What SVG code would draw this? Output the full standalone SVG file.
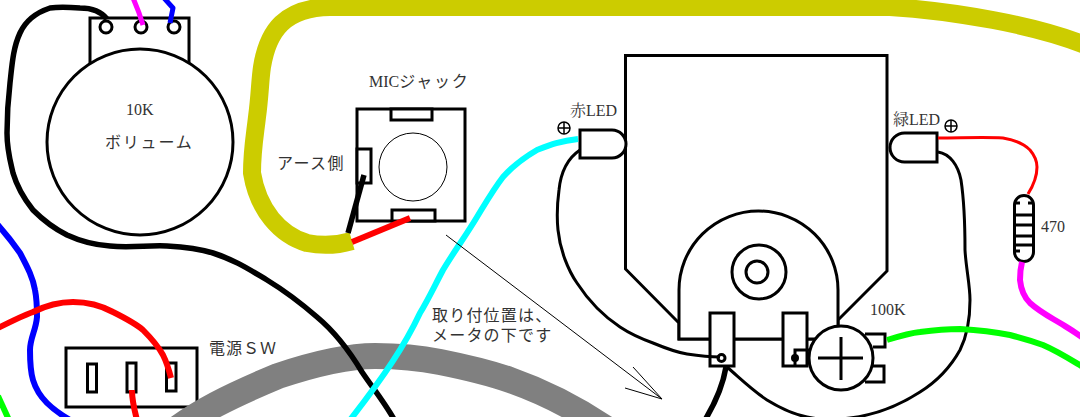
<svg xmlns="http://www.w3.org/2000/svg" width="1080" height="417" viewBox="0 0 1080 417">
<style>
.s{fill:none;stroke:#000;stroke-width:3}
.w{fill:#fff;stroke:#000;stroke-width:3}
.wire{fill:none;stroke-linejoin:round}
.ja{font-family:"Noto Sans CJK JP","DejaVu Sans",sans-serif;font-size:16px;fill:#333}
.se{font-family:"Liberation Serif","Noto Serif CJK JP","Noto Sans CJK JP",serif;font-size:16px;fill:#333}
</style>
<rect width="1080" height="417" fill="#fff"/>
<g id="volume">
<rect class="w" x="90" y="18" width="99" height="60"/>
<circle class="w" cx="106" cy="27" r="6"/><circle class="w" cx="141" cy="27" r="6"/><circle class="w" cx="174" cy="27" r="6"/>
<circle class="w" cx="140" cy="142" r="93"/>
<text class="se" x="126" y="115">10K</text>
<text class="ja" x="105" y="148" letter-spacing="1.800">ボリューム</text>
</g>
<g id="mic-jack">
<rect class="w" x="357" y="109" width="108" height="112"/>
<rect class="w" x="391" y="109" width="41" height="11"/>
<rect class="w" x="392" y="210" width="43" height="11"/>
<rect class="w" x="357" y="149" width="14" height="34"/>
<circle cx="413" cy="167" r="34" fill="none" stroke="#000"/>
<text class="se" x="369" y="87"><tspan>MIC</tspan><tspan class="ja" letter-spacing="1.800">ジャック</tspan></text>
<text class="ja" x="277" y="169" letter-spacing="1.400">アース側</text>
</g>
<g id="power-switch">
<rect class="w" x="66" y="348" width="131" height="59"/>
<rect class="w" x="87.500" y="364" width="9" height="28"/>
<rect class="w" x="127" y="363" width="9" height="29"/>
<rect class="w" x="166.500" y="363" width="9.500" height="28"/>
<text class="ja" x="209" y="354" letter-spacing="1">電源ＳＷ</text>
</g>
<g id="meter">
<path class="w" d="M625.500 55.500H887V271L838 320V339H679V323L625.500 269Z"/>
<path class="w" d="M679 339V290A79.500 79 0 0 1 838 290V339Z"/>
<circle class="s" cx="759" cy="272" r="27"/><circle class="s" cx="757" cy="272" r="11"/>
<rect class="w" x="710" y="313" width="24" height="53"/>
<circle class="s" cx="721.500" cy="358" r="3.500"/>
<rect class="w" x="783" y="313" width="24" height="53"/>
<path class="s" d="M795 366V350H811"/>
<circle cx="795" cy="358" r="4"/>
</g>
<g id="variable-resistor">
<path class="w" d="M865 334H885V347H873M873 366H884V382H865"/>
<circle class="w" cx="841" cy="358" r="32"/>
<path class="s" d="M818 358H863M841 337V380"/>
<text class="se" x="870" y="315">100K</text>
</g>
<g id="red-led">
<path class="w" d="M612 130H580V158H612A14 14 0 0 0 612 130Z"/>
<circle cx="564" cy="128" r="6" fill="none" stroke="#000" stroke-width="1.500"/>
<path d="M558 128H570M564 122V134" stroke="#000" stroke-width="1.500"/>
<text class="se" x="570" y="116">赤LED</text>
</g>
<g id="green-led">
<path class="w" d="M904.500 133H937V162H904.500A14.500 14.500 0 0 1 904.500 133Z"/>
<circle cx="951" cy="126" r="6" fill="none" stroke="#000" stroke-width="1.500"/>
<path d="M945 126H957M951 120V132" stroke="#000" stroke-width="1.500"/>
<text class="se" x="893" y="125">緑LED</text>
</g>
<g id="resistor">
<rect class="w" x="1014.500" y="195.500" width="19" height="66" rx="9.500"/>
<path class="s" d="M1015 203H1020M1028 203H1033M1015 215H1033M1015 225H1033M1015 236H1033M1015 245H1033M1015 251H1020"/>
<text class="se" x="1041" y="232">470</text>
</g>
<g id="connectors">
<path class="wire" stroke="#cccc00" stroke-width="18" d="M352 241C335 246 322 246 307 243C280 235 258 210 252 173C252 150 255 135 257 117C260 95 260 80 262 67C268 30 285 8 330 7H890C925 9 960 14 993 20C1025 26 1055 33 1085 45"/>
<path class="wire" stroke="#808080" stroke-width="26" d="M160 442C195 412 235 394 278 376C320 362 350 356 375 356C400 356 420 358 440 362C470 368 490 373 510 380C550 394 590 416 625 442"/>
<path class="wire" stroke="#000" stroke-width="5.500" d="M107 19C100 10 90 8 80 8C65 7 58 7 50 8C35 13 25 22 20 33C13 48 12 65 10 83C8 100 7 118 7 133C7 150 10 160 13 173C18 190 25 200 33 210C45 222 55 229 67 235C80 241 95 245 110 246C130 248 150 245 167 246C185 247 200 249 213 253C235 260 250 270 267 280C285 291 302 304 317 317C335 332 350 352 362 372C372 387 385 403 395 421"/>
<path class="wire" stroke="#000" stroke-width="5.500" d="M364 175L348 233"/>
<path class="wire" stroke="#f00" stroke-width="6" d="M352 242L410 218"/>
<path class="wire" stroke="#0ff" stroke-width="6" d="M578 139C560 141 550 145 537 150C525 157 512 167 503 177C493 190 485 204 477 217C465 237 455 250 443 270C435 285 428 300 420 313C405 345 385 375 350 420"/>
<path class="wire" stroke="#f0f" stroke-width="5" d="M143 25C140 15 137 7 133 -2"/>
<path class="wire" stroke="#00f" stroke-width="5" d="M170 23L173 8L164 -2"/>
<path class="wire" stroke="#00f" stroke-width="6" d="M-3 224C5 233 13 243 20 253C28 268 33 278 35 290C37 300 37 308 37 317C36 330 30 338 30 350C30 362 30 370 33 380C36 390 41 397 47 403C53 409 60 414 70 420"/>
<path class="wire" stroke="#f00" stroke-width="6" d="M-2 328C10 322 22 316 33 312C45 306 60 302 73 302C90 302 102 306 113 312C125 318 135 323 143 330C152 339 158 346 163 355C167 363 169 370 171 378"/>
<path class="wire" stroke="#f00" stroke-width="6" d="M132 390C132 398 133 405 137 420"/>
<path class="wire" stroke="#0f0" stroke-width="6" d="M-2 396L9 420"/>
<path class="wire" stroke="#000" stroke-width="3" d="M580 150C568 158 561 170 559 190C557 205 557 220 558 230C560 250 568 270 577 283C590 303 605 317 620 327C632 335 642 339 653 343C665 348 675 352 687 354C700 356 710 357 720 357"/>
<path class="wire" stroke="#000" stroke-width="3" d="M938 152C950 154 958 165 961 180C964 200 965 225 965 250C966 268 970 285 970 300C970 320 966 338 960 350C950 368 936 382 920 392C900 405 875 415 850 418C835 420 820 420 807 417C792 414 780 408 767 400C752 390 742 380 727 367"/>
<path class="wire" stroke="#000" stroke-width="5.500" d="M726 367C723 385 717 400 705 420"/>
<path class="wire" stroke="#f00" stroke-width="3" d="M938 138C960 138 985 137 1003 138C1015 140 1024 144 1030 150C1035 156 1037 161 1037 167C1037 177 1033 186 1028 194"/>
<path class="wire" stroke="#f0f" stroke-width="6" d="M1022 262C1020 270 1020 275 1020 280C1021 290 1024 297 1030 303C1040 312 1050 317 1060 323C1068 328 1075 332 1083 338"/>
<path class="wire" stroke="#0f0" stroke-width="6" d="M887 340C900 336 910 333 920 332C935 330 948 329 960 329C978 330 995 332 1010 335C1022 338 1032 341 1043 345C1057 351 1068 358 1083 367"/>
<path fill="none" stroke="#000" d="M446 235L662 399L633 367M662 399L625 388"/>
</g>
<g id="note">
<text class="ja" x="432" y="321" letter-spacing="1.200">取り付位置は、</text>
<text class="ja" x="432" y="341" letter-spacing="1.200">メータの下です</text>
</g>
</svg>
